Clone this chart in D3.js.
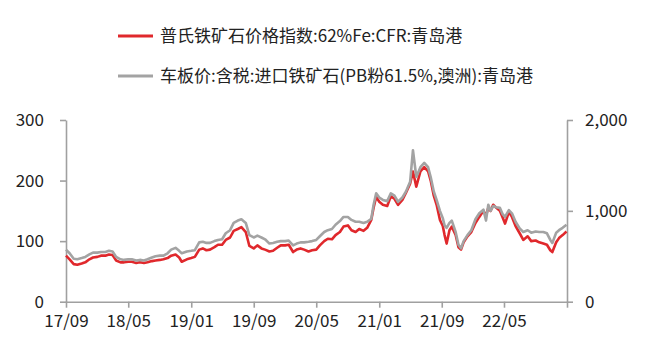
<!DOCTYPE html>
<html><head><meta charset="utf-8">
<script src="https://cdn.jsdelivr.net/npm/d3@7/dist/d3.min.js"></script>
<style>
body{margin:0;background:#fff;}
svg{display:block;}
text{font-family:"Noto Sans CJK SC","Noto Sans",sans-serif;fill:#222;}
</style></head>
<body><svg id="c" width="649" height="361"></svg>
<script>
const seriesNames = ["普氏铁矿石价格指数:62%Fe:CFR:青岛港", "车板价:含税:进口铁矿石(PB粉61.5%,澳洲):青岛港"];
const dates = ["2017-09-01","2017-09-15","2017-10-01","2017-10-15","2017-11-01","2017-11-15","2017-12-01","2017-12-15",
"2018-01-01","2018-01-15","2018-02-01","2018-02-15","2018-03-01","2018-03-15","2018-04-01","2018-04-15","2018-05-01","2018-05-15",
"2018-06-01","2018-06-15","2018-07-01","2018-07-15","2018-08-01","2018-08-15","2018-09-01","2018-09-15","2018-10-01","2018-10-15",
"2018-11-01","2018-11-15","2018-11-25","2018-12-15","2019-01-01","2019-01-15","2019-02-01","2019-02-15","2019-03-01","2019-03-15",
"2019-04-01","2019-04-15","2019-05-01","2019-05-15","2019-06-01","2019-06-15","2019-07-01","2019-07-15","2019-08-01","2019-08-15",
"2019-09-01","2019-09-15","2019-10-01","2019-10-15","2019-11-01","2019-11-15","2019-12-01","2019-12-15","2020-01-01","2020-01-15",
"2020-02-01","2020-02-15","2020-03-01","2020-03-15","2020-04-01","2020-04-15","2020-05-01","2020-05-15","2020-06-01","2020-06-15",
"2020-07-01","2020-07-15","2020-08-01","2020-08-15","2020-09-01","2020-09-15","2020-10-01","2020-10-15","2020-11-01","2020-11-15",
"2020-12-01","2020-12-10","2020-12-20","2021-01-01","2021-01-15","2021-02-01","2021-02-15","2021-03-01","2021-03-15","2021-04-01",
"2021-04-15","2021-05-01","2021-05-12","2021-05-25","2021-06-10","2021-06-25","2021-07-10","2021-07-20","2021-08-01","2021-08-12",
"2021-08-25","2021-09-05","2021-09-12","2021-09-20","2021-10-01","2021-10-10","2021-10-25","2021-11-05","2021-11-15","2021-11-25",
"2021-12-10","2021-12-25","2022-01-10","2022-01-25","2022-02-10","2022-02-20","2022-03-01","2022-03-10","2022-03-20","2022-04-01",
"2022-04-15","2022-04-25","2022-05-05","2022-05-20","2022-06-01","2022-06-15","2022-07-01","2022-07-15","2022-08-01","2022-08-15",
"2022-09-01","2022-09-15","2022-10-01","2022-10-15","2022-10-28","2022-11-05","2022-11-20","2022-12-01","2022-12-15","2022-12-30"];
const plattsUSD = [76,70,62,61,63,65,70,73,
74,76,76,78,77,68,65,65,66,66,
64,65,64,65,67,68,69,70,72,76,
78,73,66,70,72,74,86,88,85,86,
90,94,94,102,106,117,120,123,115,92,
88,93,88,86,83,84,89,93,93,94,
82,86,88,86,83,85,86,93,100,104,
103,110,115,124,126,118,115,120,117,122,
135,155,173,165,160,158,174,170,160,168,
180,195,215,190,215,222,215,200,175,160,
135,125,110,96,118,124,110,90,86,98,
108,115,130,140,150,142,155,150,160,155,
150,140,129,148,140,125,113,102,108,100,
101,98,96,94,85,82,98,105,110,116];
const pbFinesRMB = [573,533,473,467,480,493,520,540,
540,547,547,560,553,493,467,460,467,467,
453,460,453,467,487,500,507,507,533,573,
593,560,533,553,560,567,653,660,647,647,
667,680,687,753,787,867,893,907,867,733,
707,727,707,687,640,647,660,667,667,673,
620,640,653,653,660,667,680,720,767,787,
800,847,887,933,933,900,880,880,867,880,
913,1067,1193,1147,1120,1107,1193,1167,1100,1147,
1213,1320,1667,1373,1480,1527,1480,1373,1213,1120,
1000,920,840,813,867,893,767,627,587,667,
733,787,907,973,1013,893,1067,1000,1053,1040,
1033,967,933,1007,973,880,807,767,787,760,
773,767,767,753,680,647,760,787,813,847];
const xTickDates = ["2017-09-01","2018-05-01","2019-01-01","2019-09-01","2020-05-01","2021-01-01","2021-09-01","2022-05-01","2023-01-01"];
const xTickLabels = ["17/09","18/05","19/01","19/09","20/05","21/01","21/09","22/05",""];
const leftTicks = [0,100,200,300];
const rightTicks = [0,1000,2000];
const rightTickLabels = ["0","1,000","2,000"];

const parse = d3.timeParse("%Y-%m-%d");
const svg = d3.select("#c");
const L = 66, R = 567, T = 120, B = 301.7;
const x = d3.scaleTime().domain([parse("2017-09-01"), parse("2023-01-01")]).range([L, R]);
const yL = d3.scaleLinear().domain([0, 300]).range([B, T]);
const yR = d3.scaleLinear().domain([0, 2000]).range([B, T]);
const axisColor = "#a0a0a0";
const red = "#e0282c", gray = "#a3a3a3";

// axes
const gx = svg.append("g").attr("transform", `translate(0,${B})`)
  .call(d3.axisBottom(x).tickValues(xTickDates.map(parse)).tickFormat((d,i)=>xTickLabels[i]).tickSize(6).tickSizeOuter(0));
const gl = svg.append("g").attr("transform", `translate(${L},0)`)
  .call(d3.axisLeft(yL).tickValues(leftTicks).tickSize(6).tickSizeOuter(0).tickPadding(16));
const gr = svg.append("g").attr("transform", `translate(${R},0)`)
  .call(d3.axisRight(yR).tickValues(rightTicks).tickFormat((d,i)=>rightTickLabels[i]).tickSize(6).tickSizeOuter(0).tickPadding(12));
[gx,gl,gr].forEach(g=>{
  g.selectAll("path,line").attr("stroke", axisColor).attr("stroke-width", 1.6);
  g.selectAll("text").attr("font-size", 17).attr("fill", "#222").attr("font-family", "'Noto Sans','Noto Sans CJK SC',sans-serif");
});
gx.selectAll("text").attr("dy", "0.95em");

// lines
const pts1 = dates.map((d,i)=>({d:parse(d), v:plattsUSD[i]}));
const pts2 = dates.map((d,i)=>({d:parse(d), v:pbFinesRMB[i]}));
svg.append("path").datum(pts1).attr("fill","none").attr("stroke",red).attr("stroke-width",2.6).attr("stroke-linejoin","round")
  .attr("d", d3.line().x(p=>x(p.d)).y(p=>yL(p.v)));
svg.append("path").datum(pts2).attr("fill","none").attr("stroke",gray).attr("stroke-width",2.6).attr("stroke-linejoin","round")
  .attr("d", d3.line().x(p=>x(p.d)).y(p=>yR(p.v)));

// legend
const leg = svg.append("g");
[[red,36,seriesNames[0]],[gray,76,seriesNames[1]]].forEach(([c,y,t])=>{
  leg.append("line").attr("x1",118).attr("x2",153).attr("y1",y).attr("y2",y).attr("stroke",c).attr("stroke-width",3);
  leg.append("text").attr("x",160).attr("y",y).attr("dy","0.35em").attr("font-size",17).text(t);
});
</script></body></html>
